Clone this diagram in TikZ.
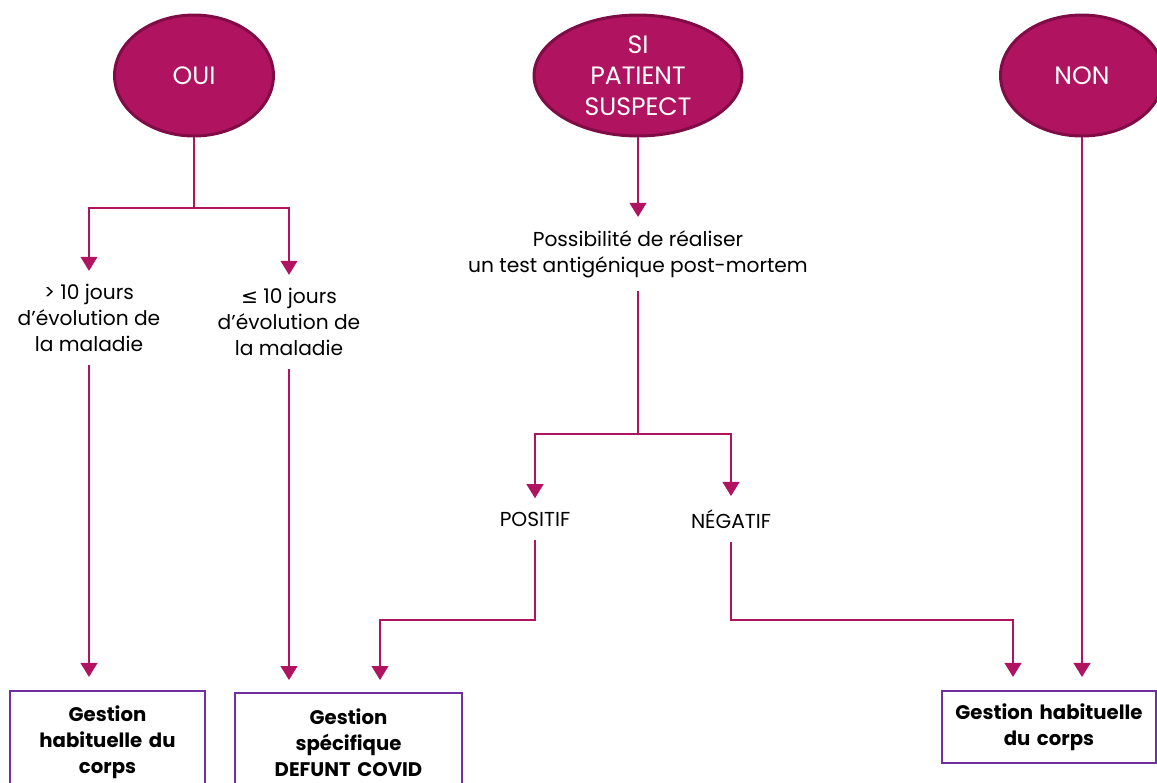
\documentclass[tikz,border=0pt]{standalone}
\usepackage{fontspec}
\setmainfont{Poppins}
\newfontfamily\symbolfont{DejaVu Sans}
\usetikzlibrary{arrows.meta, positioning, shapes.geometric, calc}
\definecolor{prune}{RGB}{176,19,96}
\definecolor{pruneborder}{RGB}{128,12,70}
\definecolor{boxviolet}{RGB}{112,48,160}
\tikzset{>={Triangle[width=9.5pt,length=8pt]}}

\begin{document}
\begin{tikzpicture}[x=0.02cm, y=-0.02cm,
	answer/.style={ellipse, fill=prune, draw=pruneborder, line width=1.7pt, text=white, align=center, inner sep=0pt, minimum height=2.42cm, font=\fontsize{14.3}{17.6}\selectfont},
	label/.style={align=center, inner xsep=2pt, inner ysep=7.5pt, font=\fontsize{11.5}{14.7}\selectfont},
	result/.style={draw=boxviolet, line width=1.1pt, align=center, anchor=north, inner sep=3pt, font=\fontsize{11.2}{14.7}\selectfont\bfseries},
	link/.style={prune, line width=1.1pt}]

	\useasboundingbox (0,0) rectangle (1157,782);

	\node [answer, minimum width=3.18cm] (oui) at (194,75.5) {OUI};
	\node [answer, minimum width=4.16cm] (suspect) at (638,75.5) {SI\\PATIENT\\SUSPECT};
	\node [answer, minimum width=3.26cm] (non) at (1082,75.5) {NON};

	\node [label] (gt10) at (89,318) {> 10 jours\\d’évolution de\\la maladie};
	\node [label] (le10) at (289,322) {{\symbolfont ≤} 10 jours\\d’évolution de\\la maladie};
	\node [label] (test) at (638,254) {Possibilité de réaliser\\un test antigénique post-mortem};
	\node [label] (pos) at (535,519) {POSITIF};
	\node [label] (neg) at (731,519) {NÉGATIF};

	\node [result, minimum width=3.9cm, minimum height=2.04cm, text width=3.6cm] (usual1) at (107.5,690) {Gestion\\habituelle du\\corps};
	\node [result, minimum width=4.54cm, minimum height=2cm, text width=4.2cm] (covid) at (348.5,692) {Gestion\\spécifique\\DEFUNT COVID};
	\node [result, minimum width=4.28cm, minimum height=1.44cm, text width=4.05cm] (usual2) at (1049,690) {Gestion habituelle\\du corps};

	%oui
	\coordinate (ouisplit) at (194,208);
	\draw [link] (oui.south) -- (ouisplit);
	\draw [link,->] (ouisplit) -| (gt10.north);
	\draw [link,->] (ouisplit) -| (le10.north);
	\draw [link,->,shorten >=7.4pt] (gt10.south) -- (gt10.south |- usual1.north);
	\draw [link,->,shorten >=6.8pt] (le10.south) -- (le10.south |- covid.north);

	%patient suspect
	\draw [link,->] (suspect.south) -- (suspect.south |- test.north);
	\coordinate (testsplit) at (638,434);
	\draw [link] (test.south) -- (testsplit);
	\draw [link,->] (testsplit) -| (pos.north);
	\draw [link,->] (testsplit) -| (neg.north);
	\coordinate (posbend) at (380,620);
	\draw [link,->,shorten >=6.8pt] (pos.south) |- (posbend) -- (posbend |- covid.north);
	\coordinate (negbend) at (1013,620);
	\draw [link,->,shorten >=7.4pt] (neg.south) |- (negbend) -- (negbend |- usual2.north);

	%non
	\draw [link,->,shorten >=7.4pt] (non.south) -- (non.south |- usual2.north);

\end{tikzpicture}
\end{document}
